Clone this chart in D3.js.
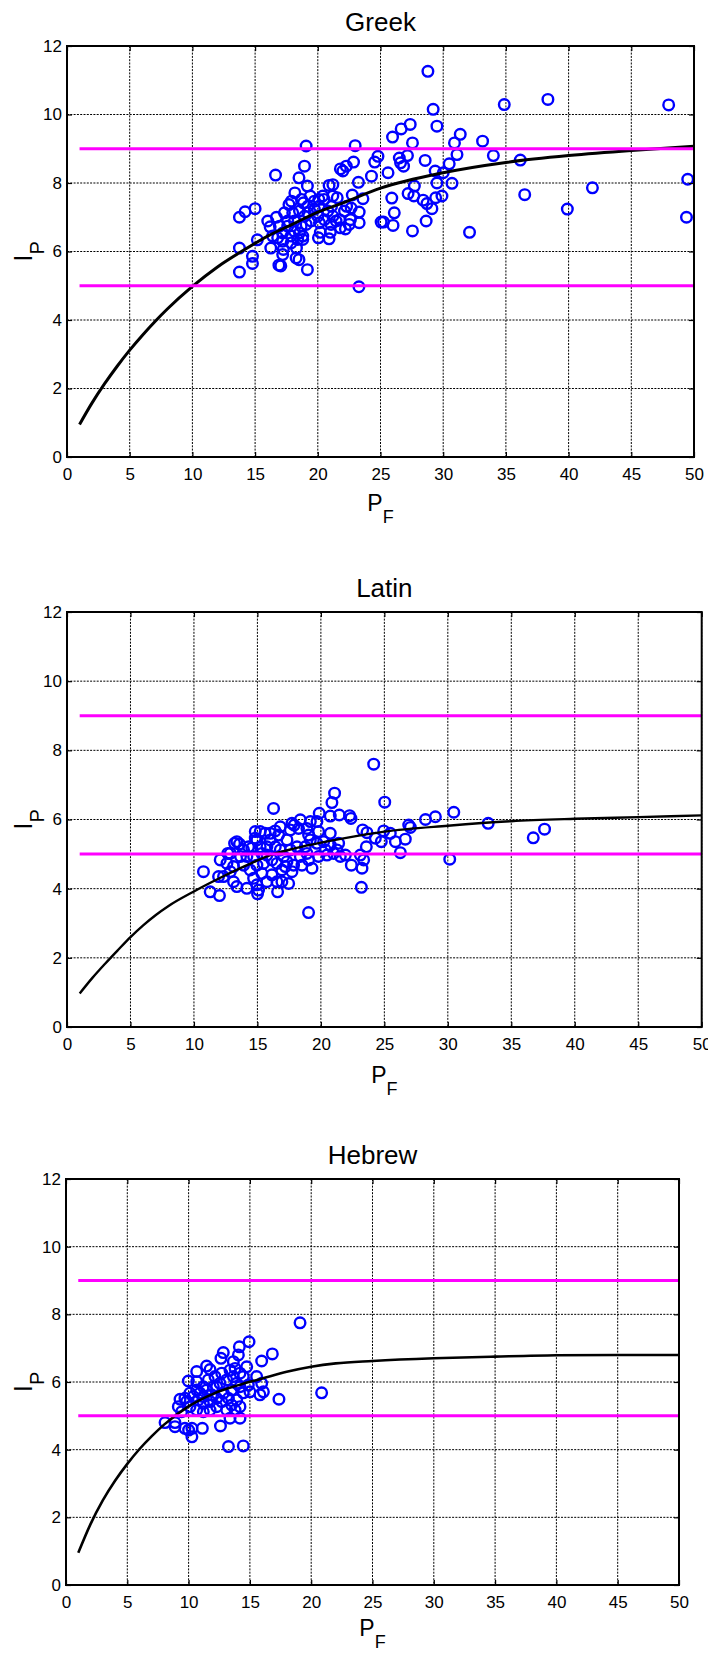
<!DOCTYPE html>
<html>
<head>
<meta charset="utf-8">
<script src="https://cdn.jsdelivr.net/npm/d3@7"></script>
<style>
  body { margin: 0; background: #fff; }
  svg { display: block; }
  text { font-family: "Liberation Sans", Arial, sans-serif; fill: #000; }
</style>
</head>
<body>
<svg id="fig" width="715" height="1655"></svg>
<script>
// ---- shared axis settings ----
const xTicks = [0, 5, 10, 15, 20, 25, 30, 35, 40, 45, 50];
const yTicks = [0, 2, 4, 6, 8, 10, 12];
const xDomain = [0, 50];
const yDomain = [0, 12];

// horizontal reference levels of I_P, drawn from P_F = 1 to 50
const referenceLevels = [5, 9];
const referenceRange = [1, 50];

// ---- fitted saturation curves (P_F grid and I_P per alphabet) ----
const curvePF = [1, 2, 3, 4, 5, 6, 7, 8, 10, 12, 14, 16, 18, 20, 22, 25, 30, 35, 40, 45, 50];
const greekCurve  = [0.95, 1.58, 2.14, 2.65, 3.12, 3.55, 3.95, 4.32, 4.98, 5.55, 6.02, 6.45, 6.8, 7.15, 7.42, 7.85, 8.3, 8.6, 8.8, 8.95, 9.07];
const latinCurve  = [0.97, 1.42, 1.83, 2.22, 2.6, 2.94, 3.24, 3.5, 3.92, 4.3, 4.65, 4.97, 5.17, 5.33, 5.47, 5.65, 5.82, 5.95, 6.02, 6.07, 6.12];
const hebrewCurve = [0.95, 1.8, 2.5, 3.08, 3.58, 4.02, 4.4, 4.74, 5.28, 5.65, 5.9, 6.1, 6.3, 6.45, 6.55, 6.62, 6.7, 6.75, 6.79, 6.8, 6.8];

// ---- measured texts: [P_F, I_P] ----
const greekPoints = [
  [28.78,11.26],[34.87,10.29],[29.2,10.15],[29.5,9.66],[27.37,9.71],[26.65,9.58],[25.96,9.34],[27.55,9.17],
  [31.36,9.42],[30.9,9.17],[33.14,9.22],[34.0,8.80],[31.1,8.83],[19.07,9.08],[22.98,9.09],[22.85,8.61],
  [22.27,8.49],[21.8,8.41],[22.0,8.35],[18.94,8.49],[16.63,8.23],[18.5,8.15],[19.17,7.91],[20.9,7.93],
  [23.24,8.02],[24.28,8.2],[24.54,8.61],[24.8,8.78],[26.5,8.73],[26.6,8.59],[27.15,8.8],[26.84,8.49],
  [25.6,8.3],[28.56,8.66],[29.36,8.35],[30.0,8.3],[30.48,8.56],[29.5,8.0],[30.7,7.99],[27.7,7.91],
  [27.2,7.69],[27.66,7.62],[28.4,7.5],[28.7,7.4],[29.1,7.25],[29.4,7.57],[29.9,7.62],[28.64,6.89],
  [27.55,6.6],[32.1,6.56],[25.9,7.56],[26.1,7.13],[26.0,6.76],[25.24,6.86],[25.05,6.86],[23.3,7.15],
  [23.3,6.84],[23.6,7.54],[22.75,7.65],[22.3,7.32],[22.6,6.93],[22.2,6.66],[21.8,6.69],[20.4,7.62],
  [20.08,7.52],[21.0,6.56],[20.2,6.56],[20.05,6.4],[20.9,6.37],[19.17,5.47],[23.28,4.97],[13.75,7.0],
  [14.2,7.16],[15.0,7.25],[13.75,6.10],[13.75,5.4],[14.79,5.86],[14.79,5.65],[15.18,6.34],[16.25,6.1],
  [17.05,5.58],[17.2,5.91],[17.25,6.06],[18.27,5.81],[18.5,5.76],[18.3,6.1],[16.2,6.72],[16.7,7.0],
  [18.17,7.71],[17.7,7.37],[17.9,7.47],[18.7,7.52],[18.86,7.42],[19.4,7.62],[20.5,7.52],[20.1,7.32],
  [21.1,7.32],[21.2,7.62],[21.55,7.57],[21.2,7.95],[16.9,5.6],
  [38.35,10.44],[47.98,10.28],[49.5,8.11],[49.4,7.0],[41.9,7.86],[39.9,7.24],[36.5,7.66],[36.15,8.67],
  [16.94,6.74],[17.2,6.54],[17.6,6.74],[17.87,6.45],[18.14,6.59],[18.4,6.35],[18.67,6.74],[18.8,6.45],
  [18.94,7.03],[19.2,7.13],[17.34,7.13],[17.6,6.89],[18.0,7.13],[16.8,6.4],[17.2,6.3],[18.14,6.89],
  [18.54,7.18],[19.07,6.79],[19.73,7.23],[20.0,7.03],[20.53,6.93],[20.8,7.18],[21.2,7.03],[21.46,6.89],
  [22.13,7.18],[22.66,7.27],[21.73,6.93],[22.5,6.79],[20.13,6.84],[21.06,6.79],[19.47,6.89],[16.01,6.89],
  [16.4,6.45],[17.87,6.25],[18.54,6.54],[18.8,6.35],[19.2,7.32],[19.73,7.47]
];

const latinPoints = [
  [24.16,7.6],[21.08,6.76],[20.87,6.49],[25.03,6.5],[16.27,6.32],[30.47,6.21],[29.02,6.08],[28.24,6.0],
  [33.18,5.89],[37.62,5.72],[36.73,5.47],[26.92,5.84],[27.05,5.77],[19.87,6.18],[20.74,6.1],[21.45,6.13],
  [22.26,6.11],[22.37,6.03],[18.38,5.99],[17.9,5.84],[17.72,5.89],[18.9,5.74],[19.69,5.94],[20.74,5.6],
  [19.82,5.65],[19.03,5.55],[14.83,5.65],[16.4,5.67],[13.38,5.36],[13.59,5.29],[13.2,5.31],[12.67,5.02],
  [12.07,4.83],[10.75,4.49],[11.28,3.91],[12.01,3.8],[15.01,3.85],[16.59,3.91],[19.03,3.31],[23.19,4.04],
  [30.15,4.85],[26.26,5.04],[26.65,5.43],[25.87,5.36],[24.76,5.36],[23.58,5.21],[23.29,5.7],[23.63,5.62],
  [24.29,5.46],[24.95,5.67],[25.47,5.6],[22.4,4.68],[23.24,4.59],[23.37,4.83],[23.11,4.97],[21.53,4.93],
  [21.0,5.02],[21.4,5.31],[20.35,5.12],[19.3,4.59],[19.03,4.83],[18.38,4.93],[17.46,4.15],[16.93,4.2],
  [17.72,4.49],[17.2,4.64],[17.33,4.78],[17.59,5.12],[16.8,5.12],[16.67,5.55],[16.01,5.41],[15.6,5.6],
  [15.22,5.21],[14.96,5.41],[14.56,5.17],[14.17,4.93],[13.67,4.93],[13.91,4.68],[13.12,4.64],[12.86,4.49],
  [12.33,4.35],[11.94,4.35],[12.6,4.73],[13.12,4.2],[13.38,4.06],[14.17,4.01],[15.09,3.96],[14.96,4.11],
  [15.75,4.2],[16.14,4.4],[15.35,4.44],[14.7,4.3],[14.43,4.54],[15.48,4.73],[16.14,4.83],[14.96,4.68],
  [14.7,4.93],[15.75,4.97],[16.54,4.73],[17.07,4.93],[16.41,5.21],[15.75,5.21],[15.35,5.02],[13.91,5.12],
  [14.3,5.21],[12.86,5.02],[14.83,5.46],[15.22,5.65],[16.01,5.6],[17.33,5.41],[18.12,5.21],[18.77,5.21],
  [19.17,5.41],[19.69,5.31],[20.22,5.36],[20.74,5.26],[21.27,5.12],[21.93,4.97],[16.54,4.2],[16.93,4.54],
  [17.85,4.68],[18.51,4.68],[18.9,5.02],[19.82,4.93],[20.48,4.97],[19.17,5.94],[18.24,5.74],[17.59,5.7],
  [16.8,5.79]
];

const hebrewPoints = [
  [19.09,7.75],[20.85,5.68],[17.37,5.49],[16.83,6.83],[15.96,6.62],[14.93,7.19],[14.14,7.04],[14.06,6.8],
  [12.83,6.87],[12.64,6.7],[11.47,6.47],[11.75,6.37],[10.66,6.31],[9.98,6.03],[14.74,6.45],[13.65,6.6],
  [13.38,6.35],[15.55,6.16],[15.96,5.96],[15.82,5.62],[16.1,5.71],[14.46,5.68],[9.3,5.49],[9.16,5.27],
  [9.43,5.12],[8.89,4.8],[8.08,4.8],[8.89,4.68],[9.7,4.63],[10.0,4.58],[10.27,4.38],[10.27,4.63],
  [11.12,4.63],[12.6,4.7],[13.38,4.93],[14.19,4.93],[13.25,4.09],[14.46,4.11],[13.11,5.17],[13.79,5.17],
  [12.29,5.27],[11.75,5.17],[11.2,5.12],[10.66,5.17],[10.11,5.27],[9.84,5.42],[10.38,5.57],[10.93,5.67],
  [11.47,5.76],[12.02,5.86],[12.56,5.96],[13.11,6.06],[13.65,6.16],[14.19,6.26],[13.92,5.96],[13.51,5.76],
  [12.83,5.67],[12.29,5.52],[11.75,5.42],[11.2,5.37],[10.8,5.47],[12.29,5.86],[11.61,6.06],[12.15,6.16],
  [12.7,6.26],[13.79,6.4],[14.46,6.16],[14.87,5.91],[15.0,5.71],[12.7,5.42],[13.25,5.52],[11.2,5.86],
  [10.66,5.76],[10.11,5.67],[9.7,5.52],[13.92,5.47],[14.19,5.27],[13.51,5.32],[11.88,5.62],[11.2,5.57],
  [10.66,6.01],[14.19,5.86]
];

const titles = ["Greek", "Latin", "Hebrew"];

// ---- panel geometry ----
const panels = [
  { title: titles[0], points: greekPoints,  curve: greekCurve,  left: 67, right: 694,   top: 46,   bottom: 457,  xlab: 54, curveW: 3.0, clipW: null },
  { title: titles[1], points: latinPoints,  curve: latinCurve,  left: 67, right: 701.7, top: 612,  bottom: 1027, xlab: 56, curveW: 2.4, clipW: 708 },
  { title: titles[2], points: hebrewPoints, curve: hebrewCurve, left: 66, right: 679,   top: 1179, bottom: 1585, xlab: 51, curveW: 2.6, clipW: null }
];

const svg = d3.select("#fig");
svg.append("rect").attr("width", 715).attr("height", 1655).attr("fill", "#fff");
const defs = svg.append("defs");

panels.forEach((p, i) => {
  const g = svg.append("g");
  if (p.clipW) {
    defs.append("clipPath").attr("id", "clip" + i)
      .append("rect").attr("x", 0).attr("y", p.top - 80).attr("width", p.clipW).attr("height", p.bottom - p.top + 160);
    g.attr("clip-path", `url(#clip${i})`);
  }

  const x = d3.scaleLinear().domain(xDomain).range([p.left, p.right]);
  const y = d3.scaleLinear().domain(yDomain).range([p.bottom, p.top]);
  const midX = (p.left + p.right) / 2;
  const midY = (p.top + p.bottom) / 2;

  // dotted grid
  const grid = g.append("g").attr("stroke", "#000").attr("stroke-width", 1).attr("stroke-dasharray", "2,1.3");
  grid.selectAll("line.v").data(xTicks).join("line")
    .attr("x1", d => x(d)).attr("x2", d => x(d)).attr("y1", p.top).attr("y2", p.bottom);
  grid.selectAll("line.h").data(yTicks).join("line")
    .attr("x1", p.left).attr("x2", p.right).attr("y1", d => y(d)).attr("y2", d => y(d));

  // data points
  g.append("g").selectAll("circle").data(p.points).join("circle")
    .attr("cx", d => x(d[0])).attr("cy", d => y(d[1])).attr("r", 5.3)
    .attr("fill", "none").attr("stroke", "#0000ff").attr("stroke-width", 2.4);

  // fitted curve
  const line = d3.line().x(d => x(d[0])).y(d => y(d[1])).curve(d3.curveMonotoneX);
  g.append("path").datum(curvePF.map((v, k) => [v, p.curve[k]]))
    .attr("d", line).attr("fill", "none").attr("stroke", "#000").attr("stroke-width", p.curveW);

  // reference levels
  g.append("g").selectAll("line").data(referenceLevels).join("line")
    .attr("x1", x(referenceRange[0])).attr("x2", x(referenceRange[1]))
    .attr("y1", d => y(d)).attr("y2", d => y(d))
    .attr("stroke", "#ff00ff").attr("stroke-width", 3);

  // axes with inward ticks
  const styleAxis = sel => {
    sel.attr("font-family", "'Liberation Sans', Arial, sans-serif").attr("font-size", 17);
    sel.select(".domain").remove();
    sel.selectAll(".tick line").attr("stroke", "#000").attr("stroke-width", 1.2);
  };
  g.append("g").attr("transform", `translate(0,${p.bottom})`)
    .call(d3.axisBottom(x).tickValues(xTicks).tickSize(-5).tickPadding(11).tickFormat(d3.format("d"))).call(styleAxis);
  g.append("g").attr("transform", `translate(${p.left},0)`)
    .call(d3.axisLeft(y).tickValues(yTicks).tickSize(-5).tickPadding(5).tickFormat(d3.format("d"))).call(styleAxis);
  g.append("g").attr("transform", `translate(0,${p.top})`)
    .call(d3.axisTop(x).tickValues(xTicks).tickSize(-5).tickFormat("")).call(styleAxis);
  g.append("g").attr("transform", `translate(${p.right},0)`)
    .call(d3.axisRight(y).tickValues(yTicks).tickSize(-5).tickFormat("")).call(styleAxis);

  // frame
  g.append("rect").attr("x", p.left).attr("y", p.top)
    .attr("width", p.right - p.left).attr("height", p.bottom - p.top)
    .attr("fill", "none").attr("stroke", "#000").attr("stroke-width", 2);

  // title
  g.append("text").attr("x", midX).attr("y", p.top - 15)
    .attr("text-anchor", "middle").attr("font-size", 26).text(p.title);

  // x label P_F
  const xl = g.append("text").attr("x", midX).attr("y", p.bottom + p.xlab)
    .attr("text-anchor", "middle").attr("font-size", 23);
  xl.append("tspan").text("P");
  xl.append("tspan").attr("dy", 12).attr("font-size", 18).text("F");

  // y label I_P
  const yl = g.append("text").attr("transform", `translate(32,${midY}) rotate(-90)`)
    .attr("text-anchor", "middle").attr("font-size", 26);
  yl.append("tspan").text("I");
  yl.append("tspan").attr("dy", 12).attr("font-size", 20).text("P");
});
</script>
</body>
</html>
